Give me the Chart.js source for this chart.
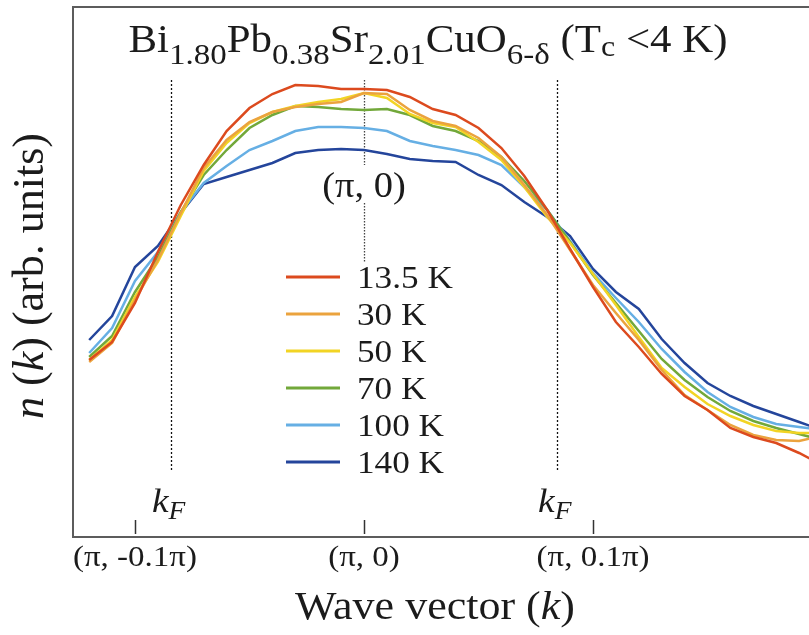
<!DOCTYPE html>
<html>
<head>
<meta charset="utf-8">
<script src="https://cdn.jsdelivr.net/npm/chart.js@4.4.1/dist/chart.umd.min.js"></script>
<style>
  html, body { margin: 0; padding: 0; background: #fff; overflow: hidden; }
  #wrap { width: 809px; height: 635px; position: relative; }
</style>
</head>
<body>
<div id="wrap"><canvas id="c"></canvas></div>
<script>
// Wave vector along the cut, in units of 0.1π away from (π, 0)
const kValues = [-1.2, -1.1, -1.0, -0.9, -0.8, -0.7, -0.6, -0.5, -0.4, -0.3, -0.2, -0.1,
                 0.0, 0.1, 0.2, 0.3, 0.4, 0.5, 0.6, 0.7, 0.8, 0.9, 1.0, 1.1, 1.2,
                 1.3, 1.4, 1.5, 1.6, 1.7, 1.8, 1.9, 2.0];

// Momentum distribution n(k), arbitrary units, one list per temperature
const n13_5K = [177, 195, 234, 285, 332, 372, 406, 429, 443, 452, 451, 448, 448, 447, 440, 428, 422,
                409, 389, 361, 327, 288, 250, 215, 190, 163, 141, 127, 109, 100, 94, 84, 72];
const n30K   = [175, 194, 237, 277, 324, 369, 397, 415, 425, 430, 433, 435, 444, 443, 427, 416, 411,
                399, 380, 352, 322, 287, 252, 224, 197, 167, 142, 127, 112, 102, 97, 96, 101];
const n50K   = [177, 197, 240, 275, 321, 366, 394, 414, 425, 431, 435, 438, 444, 439, 423, 414, 410,
                395, 377, 350, 320, 294, 263, 232, 200, 169, 150, 133, 121, 112, 106, 104, 104];
const n70K   = [180, 201, 245, 280, 325, 362, 387, 409, 422, 431, 430, 428, 427, 428, 422, 411, 406,
                396, 380, 356, 327, 295, 262, 234, 206, 178, 157, 140, 126, 116, 109, 103, 97];
const n100K  = [184, 209, 256, 285, 325, 354, 371, 387, 396, 406, 410, 410, 409, 406, 396, 391, 387,
                382, 372, 350, 327, 296, 264, 239, 215, 188, 165, 145, 130, 120, 113, 110, 107];
const n140K  = [197, 221, 270, 291, 324, 353, 360, 367, 374, 384, 387, 388, 387, 383, 378, 376, 375,
                362, 352, 335, 320, 301, 268, 245, 228, 198, 174, 154, 141, 131, 123, 115, 107];

const seriesLabels = ['13.5 K', '30 K', '50 K', '70 K', '100 K', '140 K'];
const seriesValues = [n13_5K, n30K, n50K, n70K, n100K, n140K];
const seriesColors = ['#dc4a1e', '#eba33e', '#f2d424', '#72a83a', '#66afe4', '#24459b'];

// Tick positions on the k axis and their labels
const tickValues = [-1, 0, 1];
const tickLabels = ['(π, -0.1π)', '(π, 0)', '(π, 0.1π)'];

// Fermi crossings
const kFermi = [-0.843, 0.843];

const SERIF = '"Liberation Serif", "Times New Roman", serif';
const INK = '#1b1b1b';
const STRETCH = 1.1;

function fontOf(size, italic) {
  return (italic ? 'italic ' : '') + size + 'px ' + SERIF;
}

// Draw a run of differently-styled text pieces on one baseline
function drawRuns(ctx, runs, x, y, align, sx) {
  ctx.save();
  ctx.textBaseline = 'alphabetic';
  ctx.textAlign = 'left';
  let w = 0;
  runs.forEach(r => { ctx.font = r.font; w += ctx.measureText(r.t).width; });
  const x0 = align === 'center' ? x - w * sx / 2 : x;
  ctx.translate(x0, y);
  ctx.scale(sx, 1);
  let cx = 0;
  runs.forEach(r => {
    ctx.font = r.font;
    ctx.fillStyle = INK;
    ctx.fillText(r.t, cx, r.dy || 0);
    cx += ctx.measureText(r.t).width;
  });
  ctx.restore();
}

const guideLines = {
  id: 'guideLines',
  beforeDatasetsDraw(chart) {
    const { ctx, scales: { x, y } } = chart;
    ctx.save();
    ctx.strokeStyle = '#111';
    ctx.lineWidth = 1.3;
    ctx.setLineDash([2, 2]);
    kFermi.forEach(k => {
      const px = Math.round(x.getPixelForValue(k)) + 0.5;
      ctx.beginPath();
      ctx.moveTo(px, y.getPixelForValue(457));
      ctx.lineTo(px, y.getPixelForValue(67));
      ctx.stroke();
    });
    const cx = Math.round(x.getPixelForValue(0)) + 0.5;
    ctx.strokeStyle = '#444';
    ctx.setLineDash([1.5, 1.5]);
    ctx.beginPath();
    ctx.moveTo(cx, y.getPixelForValue(457));
    ctx.lineTo(cx, y.getPixelForValue(372));
    ctx.moveTo(cx, y.getPixelForValue(334));
    ctx.lineTo(cx, y.getPixelForValue(275));
    ctx.stroke();
    ctx.restore();
  }
};

const annotations = {
  id: 'annotations',
  afterDraw(chart) {
    const { ctx, chartArea: a, scales: { x } } = chart;
    ctx.save();
    // frame: top edge
    ctx.strokeStyle = '#5c5c5c';
    ctx.lineWidth = 2;
    ctx.beginPath();
    ctx.moveTo(a.left - 1, a.top);
    ctx.lineTo(a.right + 2, a.top);
    ctx.stroke();
    // inward tick marks
    ctx.lineWidth = 1.5;
    ctx.strokeStyle = '#333';
    tickValues.forEach(v => {
      const px = Math.round(x.getPixelForValue(v)) + 0.5;
      ctx.beginPath();
      ctx.moveTo(px, a.bottom - 3);
      ctx.lineTo(px, a.bottom - 17);
      ctx.stroke();
    });
    ctx.restore();

    // tick labels
    tickValues.forEach((v, i) => {
      drawRuns(ctx, [{ t: tickLabels[i], font: fontOf(30) }], x.getPixelForValue(v), a.bottom + 29, 'center', STRETCH);
    });

    // axis titles
    drawRuns(ctx, [
      { t: 'Wave vector (', font: fontOf(40) },
      { t: 'k', font: fontOf(40, true) },
      { t: ')', font: fontOf(40) }
    ], (a.left + a.right) / 2 - 6, 619, 'center', STRETCH);

    ctx.save();
    ctx.translate(43, (a.top + a.bottom) / 2 + 4);
    ctx.rotate(-Math.PI / 2);
    drawRuns(ctx, [
      { t: 'n', font: fontOf(44, true) },
      { t: ' (', font: fontOf(44) },
      { t: 'k', font: fontOf(44, true) },
      { t: ') (arb. units)', font: fontOf(44) }
    ], 0, 0, 'center', 1);
    ctx.restore();

    // compound title
    const M = fontOf(39), S = fontOf(30);
    drawRuns(ctx, [
      { t: 'Bi', font: M }, { t: '1.80', font: S, dy: 12 },
      { t: 'Pb', font: M }, { t: '0.38', font: S, dy: 12 },
      { t: 'Sr', font: M }, { t: '2.01', font: S, dy: 12 },
      { t: 'CuO', font: M }, { t: '6-δ', font: S, dy: 12 },
      { t: ' (T', font: M }, { t: 'c', font: fontOf(29), dy: 4 },
      { t: ' <4 K)', font: M }
    ], 428, 52, 'center', STRETCH);

    // label of the zone-boundary point
    drawRuns(ctx, [{ t: '(π, 0)', font: fontOf(35) }], x.getPixelForValue(0), 197, 'center', STRETCH);

    // k_F labels
    kFermi.forEach(k => {
      drawRuns(ctx, [
        { t: 'k', font: fontOf(34, true) },
        { t: 'F', font: fontOf(25, true), dy: 7 }
      ], x.getPixelForValue(k) - 19, 512, 'left', STRETCH);
    });

    // legend
    const lx0 = 286, lx1 = 340, ly0 = 277, dy = 37;
    chart.data.datasets.forEach((ds, i) => {
      const ly = ly0 + i * dy;
      ctx.save();
      ctx.strokeStyle = ds.borderColor;
      ctx.lineWidth = 3;
      ctx.beginPath();
      ctx.moveTo(lx0, ly);
      ctx.lineTo(lx1, ly);
      ctx.stroke();
      ctx.restore();
      drawRuns(ctx, [{ t: ds.label, font: fontOf(32) }], 357, ly + 11, 'left', STRETCH);
    });
  }
};

const datasets = seriesLabels.map((label, i) => ({
  label,
  data: kValues.map((k, j) => ({ x: k, y: seriesValues[i][j] })),
  borderColor: seriesColors[i],
  backgroundColor: seriesColors[i],
  borderWidth: 2.5,
  pointRadius: 0,
  tension: 0,
  fill: false
}));

new Chart(document.getElementById('c'), {
  type: 'line',
  data: { datasets },
  options: {
    responsive: true,
    maintainAspectRatio: false,
    animation: false,
    events: [],
    layout: { padding: { top: 7, right: 0, left: 0, bottom: 0 } },
    plugins: { legend: { display: false }, tooltip: { enabled: false } },
    scales: {
      x: {
        type: 'linear',
        min: -1.2707,
        max: 1.9432,
        grid: { display: false, drawTicks: false },
        border: { display: true, color: '#5c5c5c', width: 2 },
        ticks: { display: false },
        afterFit(scale) { scale.height = 98; }
      },
      y: {
        min: 0,
        max: 530,
        grid: { display: false, drawTicks: false },
        border: { display: true, color: '#5c5c5c', width: 2 },
        ticks: { display: false },
        afterFit(scale) { scale.width = 73; }
      }
    }
  },
  plugins: [guideLines, annotations]
});
</script>
</body>
</html>
